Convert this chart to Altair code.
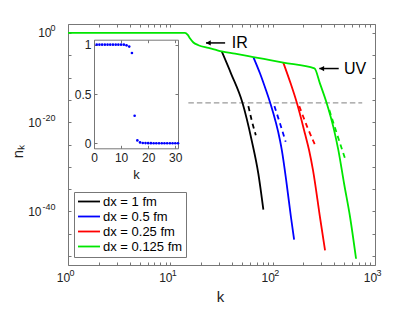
import altair as alt
import pandas as pd

FONT = "Liberation Sans"

# ---------------- data ----------------
series = ["dx = 1 fm", "dx = 0.5 fm", "dx = 0.25 fm", "dx = 0.125 fm"]
series_colors = ["#000000", "#0000ff", "#ff0000", "#00e600"]

# solid curves: k and log10(n_k)
black_k = [31.8, 39.2, 50.6, 62.4, 72.4, 81.1]
black_log10n = [-4.15, -9.1, -15.6, -24.1, -31.5, -39.6]

blue_k = [64.7, 75.3, 86.1, 94.4, 118, 123, 137, 151, 162]
blue_log10n = [-5.4, -9.1, -12.85, -15.6, -24.1, -26.3, -33.8, -41.3, -46.3]

red_k = [127, 150, 172, 207, 227, 248, 290, 325]
red_log10n = [-6.65, -11.35, -15.6, -22.6, -26.3, -30.8, -41.3, -48.7]

green_k = [1, 13.9, 14.8, 15.6, 16.8, 18.8, 23.6, 27.4, 31.8, 42.9, 64.7, 94.4,
           127, 256, 290, 338, 392, 439, 499, 571, 653]
green_log10n = [0, 0, -0.45, -1.25, -2.15, -2.75, -3.35, -3.75, -4.15, -4.65, -5.4, -6.1,
                -6.65, -7.95, -11.35, -15.8, -21.1, -26.3, -33.8, -41.3, -50.6]

# dashed curves
black_d_k = [57.9, 62.4, 68.4]
black_d_log10n = [-16.4, -19.6, -22.9]
blue_d_k = [104, 118, 134]
blue_d_log10n = [-16.4, -20.3, -24.4]
red_d_k = [182, 218, 264]
red_d_log10n = [-16.4, -21.1, -25.5]
green_d_k = [358, 423, 511]
green_d_log10n = [-17.3, -22.5, -28.2]

# machine-precision level line
eps_k_start = [15]
eps_k_end = [750]
eps_n = [2.2e-16]

# annotations
ann_label = ["IR", "UV"]
ann_head_k = [22.3, 286]
ann_tail_k = [34.3, 442]
ann_text_k = [39.8, 498]
ann_n = [5.75e-3, 1.05e-8]

# inset
inset_k = [1, 2, 3, 4, 5, 6, 7, 8, 9, 10, 11, 12, 13, 14, 15, 16, 17, 18, 19, 20,
           21, 22, 23, 24, 25, 26, 27, 28, 29, 30, 31]
inset_n = [1, 1, 1, 1, 1, 1, 1, 1, 1, 1, 1, 0.993, 0.98, 0.915, 0.28, 0.03, 0.01,
           0.004, 0.003, 0.002, 0.002, 0.001, 0.001, 0.001, 0.001, 0.001, 0.001,
           0.001, 0.001, 0.001, 0.001]

# tick positions
x_ticks = [1, 2, 3, 4, 5, 6, 7, 8, 9, 10, 20, 30, 40, 50, 60, 70, 80, 90,
           100, 200, 300, 400, 500, 600, 700, 800, 900, 1000]
x_major = [1, 10, 100, 1000]
x_exponents = ["0", "1", "2", "3"]
y_ticks = [1e-50, 1e-45, 1e-40, 1e-35, 1e-30, 1e-25, 1e-20, 1e-15, 1e-10, 1e-5, 1e0]
y_major = [1e-40, 1e-20, 1e0]
y_exponents = ["-40", "-20", "0"]
inset_x_ticks = [0, 10, 20, 30]
inset_y_ticks = [0, 0.5, 1]

# ---------------- tables ----------------
def table(k, e, name, col):
    return pd.DataFrame({"k": k, "n": [10.0 ** v for v in e], "dx": name, "col": col})

solid = pd.concat([
    table(black_k, black_log10n, series[0], series_colors[0]),
    table(blue_k, blue_log10n, series[1], series_colors[1]),
    table(red_k, red_log10n, series[2], series_colors[2]),
    table(green_k, green_log10n, series[3], series_colors[3]),
], ignore_index=True)

dashed = pd.concat([
    table(black_d_k, black_d_log10n, series[0], series_colors[0]),
    table(blue_d_k, blue_d_log10n, series[1], series_colors[1]),
    table(red_d_k, red_d_log10n, series[2], series_colors[2]),
    table(green_d_k, green_d_log10n, series[3], series_colors[3]),
], ignore_index=True)

eps_df = pd.DataFrame({"k1": eps_k_start, "k2": eps_k_end, "n": eps_n})
ann_df = pd.DataFrame({"label": ann_label, "head": ann_head_k, "tail": ann_tail_k,
                       "tk": ann_text_k, "n": ann_n})
inset_df = pd.DataFrame({"k": inset_k, "n": inset_n})

# label expressions built from the major tick lists
x_sup_expr = " : ".join(f"datum.value == {v} ? '{s}'" for v, s in zip(x_major, x_exponents)) + " : ''"
x_ten_expr = "indexof([" + ",".join(str(v) for v in x_major) + "], datum.value) >= 0 ? '10' : ''"
y_round = "round(log(datum.value)/LN10)"
y_sup_expr = " : ".join(f"{y_round} == {s} ? '{s}'" for s in y_exponents) + " : ''"
y_ten_expr = "indexof([" + ",".join(y_exponents) + f"], {y_round}) >= 0 ? '10' : ''"

# ---------------- scales & axes ----------------
W, H = 307, 241
XS = alt.Scale(type="log", domain=[1, 1000], nice=False)
YS = alt.Scale(type="log", domain=[1e-52, 1e2], nice=False)

TICK_IN = {"expr": "-3"}
common = dict(domain=False, grid=False, tickColor="#777", tickWidth=1, tickSize=TICK_IN,
              labelFont=FONT, labelFontSize=12, labelColor="#222",
              labelOverlap=False, labelFlush=False)
nolines = dict(domain=False, grid=False, ticks=False, labelFont=FONT, labelColor="#222",
               labelOverlap=False, labelFlush=False, title=None)

x_bottom = alt.Axis(orient="bottom", values=x_ticks, labelExpr=x_ten_expr, labelPadding=10,
                    labelOffset=-5,
                    title="k", titleFont=FONT, titleFontSize=15, titleFontWeight="normal",
                    titleColor="#222", titleX=152, titleY=36, titleBaseline="alphabetic",
                    **common)
y_left = alt.Axis(orient="left", values=y_ticks, labelExpr=y_ten_expr,
                  labelPadding={"condition": {"test": f"{y_round} == 0", "value": 20},
                                "value": 30},
                  title="n\u2096", titleFont=FONT, titleFontSize=15, titleFontWeight="normal",
                  titleColor="#222", titleX=-46, titleY=127, titleBaseline="alphabetic",
                  titleAngle=270, titleAlign="center", **common)
x_bottom_sup = alt.Axis(orient="bottom", values=x_major, labelExpr=x_sup_expr, labelPadding=3,
                        labelOffset=1, labelAlign="left", labelFontSize=9, **nolines)
y_left_sup = alt.Axis(orient="left", values=y_major, labelExpr=y_sup_expr, labelPadding=13,
                      labelOffset=-5, labelAlign="right", labelFontSize=9, **nolines)
x_top = alt.Axis(orient="top", values=x_ticks, labels=False, title=None, **common)
y_right = alt.Axis(orient="right", values=y_ticks, labels=False, title=None, **common)

legend = alt.Legend(title=None, orient="none", legendX=6, legendY=168,
                    symbolType="M-1,0H3", symbolSize=121, symbolStrokeWidth=1.8,
                    labelFont=FONT, labelFontSize=13, labelColor="#000", labelOffset=13,
                    padding=3, rowPadding=1, strokeColor="#777", fillColor="white")

# ---------------- main plot layers ----------------
eps_layer = alt.Chart(eps_df).mark_rule(color="#999999", strokeWidth=1.2, strokeDash=[5.5, 3]).encode(
    x=alt.X("k1:Q", scale=XS, axis=x_bottom_sup), x2="k2:Q",
    y=alt.Y("n:Q", scale=YS, axis=y_left_sup))

solid_layer = alt.Chart(solid).mark_line(strokeWidth=1.8, interpolate="monotone").encode(
    x=alt.X("k:Q", scale=XS, axis=x_bottom),
    y=alt.Y("n:Q", scale=YS, axis=y_left),
    color=alt.Color("dx:N", scale=alt.Scale(domain=series, range=series_colors), legend=legend),
    detail="dx:N")

dashed_layer = alt.Chart(dashed).mark_line(strokeWidth=1.8, strokeDash=[5, 4], interpolate="monotone").encode(
    x=alt.X("k:Q", scale=XS, axis=x_top),
    y=alt.Y("n:Q", scale=YS, axis=y_right),
    color=alt.Color("col:N", scale=None),
    detail="dx:N")

shafts = alt.Chart(ann_df).mark_rule(color="black", strokeWidth=1.5).encode(
    x=alt.X("tail:Q", scale=XS, axis=None), x2="head:Q",
    y=alt.Y("n:Q", scale=YS, axis=None))
heads = alt.Chart(ann_df).mark_point(shape="M0,0L1.8,-1L1.8,1Z", size=28, filled=True,
                                     color="black", opacity=1, strokeWidth=0).encode(
    x=alt.X("head:Q", scale=XS, axis=None),
    y=alt.Y("n:Q", scale=YS, axis=None))
texts = alt.Chart(ann_df).mark_text(font=FONT, fontSize=16, align="left", baseline="middle",
                                    color="black").encode(
    x=alt.X("tk:Q", scale=XS, axis=None),
    y=alt.Y("n:Q", scale=YS, axis=None),
    text="label:N")

main = alt.layer(eps_layer, solid_layer, dashed_layer, shafts, heads, texts).resolve_axis(
    x="independent", y="independent")

# ---------------- inset ----------------
IXS = alt.Scale(domain=[0, 31], range=[26, 110], nice=False, zero=False)
IYS = alt.Scale(domain=[-0.05, 1.05], range=[124.3, 15.7], nice=False, zero=False)
icommon = dict(domain=True, domainColor="#777", domainWidth=1, grid=False, tickColor="#777",
               tickWidth=1, tickSize=TICK_IN, labelFont=FONT, labelFontSize=12,
               labelColor="#222", labelOverlap=False, labelFlush=False)

ix_bottom = alt.Axis(orient="bottom", offset=-116.7, values=inset_x_ticks, format="d",
                     labelPadding=7.5, title="k", titleFont=FONT, titleFontSize=13,
                     titleFontWeight="normal", titleColor="#222", titleY=30,
                     titleBaseline="alphabetic", **icommon)
iy_left = alt.Axis(orient="left", offset=-26, values=inset_y_ticks, format="~g",
                   labelPadding=6, title=None, **icommon)
ix_top = alt.Axis(orient="top", offset=-15.7, values=inset_x_ticks, labels=False, title=None, **icommon)
iy_right = alt.Axis(orient="right", offset=-197, values=inset_y_ticks, labels=False, title=None, **icommon)

inset_a = alt.Chart(inset_df).mark_circle(size=7, color="#0000ff", opacity=1).encode(
    x=alt.X("k:Q", scale=IXS, axis=ix_bottom),
    y=alt.Y("n:Q", scale=IYS, axis=iy_left))
inset_b = alt.Chart(inset_df).mark_circle(size=7, color="#0000ff", opacity=0).encode(
    x=alt.X("k:Q", scale=IXS, axis=ix_top),
    y=alt.Y("n:Q", scale=IYS, axis=iy_right))
inset = alt.layer(inset_a, inset_b).resolve_axis(x="independent", y="independent")

chart = alt.layer(main, inset).resolve_scale(x="independent", y="independent").resolve_axis(
    x="independent", y="independent").properties(
    width=W, height=H,
    padding={"left": 60, "top": 16, "right": 32, "bottom": 39},
    autosize=alt.AutoSizeParams(type="none"),
).configure_view(stroke="#777", strokeWidth=1)

chart.save("out.html", embed_options={"renderer": "svg", "actions": False})
